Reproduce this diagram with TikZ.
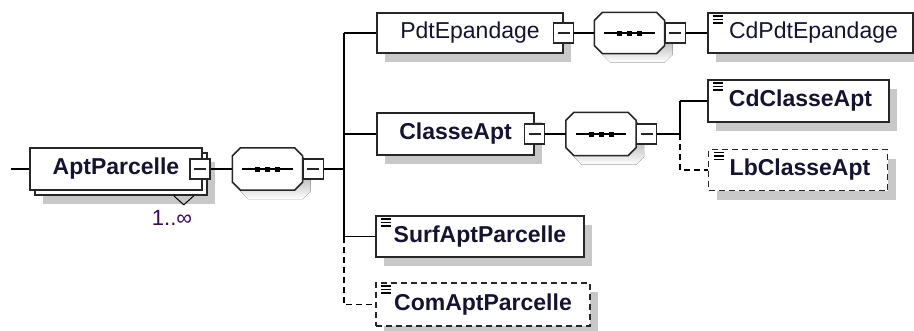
\documentclass[tikz,border=0pt]{standalone}
\usepackage{fontspec}
\setmainfont{Liberation Sans}
\usepackage{tikz}
\usetikzlibrary{positioning,shapes,shadows,calc}
\definecolor{ink}{RGB}{20,20,50}
\definecolor{multi}{RGB}{60,10,90}
\definecolor{shade}{RGB}{200,200,200}
\tikzstyle{box}=[%
      rectangle, draw=black!85, line width=1.6pt, fill=white, text=ink,
      minimum height=41pt, inner sep=0pt, font=\fontsize{23}{23}\selectfont
]
\tikzstyle{el}=[%
      box, drop shadow={shadow xshift=8pt, shadow yshift=-9pt, fill=shade, opacity=1}
]
\tikzstyle{opt}=[%
      el, dash pattern=on 6pt off 4pt
]
\tikzstyle{bold}=[%
      font=\fontsize{23}{23}\selectfont\bfseries
]
\tikzstyle{doc}=[%
      path picture={\foreach \k in {3,6.5,10}
        \draw[solid, line width=1.2pt, black] ([xshift=5pt,yshift=-\k pt]path picture bounding box.north west) -- ++(10,0);}
]
\tikzstyle{ex}=[%
      rectangle, draw=black!85, line width=1.3pt, fill=white, solid,
      minimum size=20pt, inner sep=0pt,
      path picture={\draw[line width=1.2pt] ([xshift=4pt]path picture bounding box.west) -- ([xshift=-4pt]path picture bounding box.east);}
]
\tikzstyle{seq}=[%
      rectangle, draw=none, minimum width=69pt, minimum height=41pt, inner sep=0pt
]
\tikzstyle{dsh}=[%
      dash pattern=on 6pt off 4pt
]
% octagon round a node: name, x shift, y shift
\newcommand{\octpath}[3]{([xshift=8pt+#2,yshift=#3]#1.north west) -- ([xshift=-8pt+#2,yshift=#3]#1.north east)
  -- ([xshift=#2,yshift=-8pt+#3]#1.north east) -- ([xshift=#2,yshift=8pt+#3]#1.south east)
  -- ([xshift=-8pt+#2,yshift=#3]#1.south east) -- ([xshift=8pt+#2,yshift=#3]#1.south west)
  -- ([xshift=#2,yshift=8pt+#3]#1.south west) -- ([xshift=#2,yshift=-8pt+#3]#1.north west) -- cycle}

\begin{document}
\begin{tikzpicture}[x=1pt, y=-1pt, line width=1.3pt, line join=miter]
    \useasboundingbox (0,0) rectangle (914,330);

    \node[el, bold, minimum width=172pt, minimum height=42pt] (aptb) at (121,174) {};
    \node[box, bold, minimum width=172pt, minimum height=42pt] (apt) at (116,169) {AptParcelle};
    \draw[line width=1pt] ([xshift=-34pt]aptb.south east) -- ++(10,9) -- ++(10,-9);
    \node[text=multi, font=\fontsize{22}{22}\selectfont] (mult) at (172,218) {1..∞};
    \coordinate (in) at (11,169);

    \node[seq] (q1) at (267.5,169) {};
    \coordinate (j1) at (344,169);

    \node[el, minimum width=186pt, minimum height=40pt] (pdt) at (470,33) {PdtEpandage};
    \node[seq, minimum height=40pt] (q2) at (629.5,33) {};
    \node[el, doc, minimum width=205pt, minimum height=40pt] (cdp) at (810.5,33) {\hspace{6pt}CdPdtEpandage};

    \node[el, bold, minimum width=157pt, minimum height=42pt] (cls) at (455.5,134) {ClasseApt};
    \node[seq, minimum height=42pt] (q3) at (601,134) {};
    \coordinate (j2) at (680,134);
    \node[el, bold, doc, minimum width=181pt, minimum height=42pt] (cdc) at (798.5,101) {\hspace{4pt}CdClasseApt};
    \node[opt, bold, doc, minimum width=179pt] (lbc) at (798,170) {\hspace{4pt}LbClasseApt};

    \node[el, bold, doc, minimum width=208pt] (surf) at (480,236.5) {SurfAptParcelle};
    \node[opt, bold, doc, minimum width=214pt, minimum height=43pt] (com) at (483,304.5) {ComAptParcelle};

    \foreach \q in {q1,q2,q3} {
      \fill[shade] \octpath{\q}{8pt}{-9pt};
      \draw[draw=black!85, line width=1.6pt, fill=white] \octpath{\q}{0pt}{0pt};
      \draw ([xshift=10pt]\q.west) -- ([xshift=-10pt]\q.east);
      \foreach \d in {-10,0,10}
        \fill ([shift={(\d-2.5,-2.5)}]\q.center) rectangle ++(5,5);
    }

    \node[ex] (apt-x) at (200,169) {};
    \node[ex, right=0pt of q1] (q1-x) {};
    \node[ex] (pdt-x) at (pdt.east) {};
    \node[ex, right=0pt of q2] (q2-x) {};
    \node[ex] (cls-x) at (cls.east) {};
    \node[ex, right=0pt of q3] (q3-x) {};

    \draw (in) -- (apt.west);
    \draw (apt-x.east) -- (q1.west);
    \draw (q1-x.east) -- (j1);
    \draw (j1 |- pdt) -- (j1 |- surf);
    \draw[dsh] (j1 |- surf) -- (j1 |- com) -- (com.west);
    \draw (j1 |- pdt) -- (pdt.west);
    \draw (j1 |- cls) -- (cls.west);
    \draw (j1 |- surf) -- (surf.west);

    \draw (pdt-x.east) -- (q2.west);
    \draw (q2-x.east) -- (cdp.west);

    \draw (cls-x.east) -- (q3.west);
    \draw (q3-x.east) -- (j2);
    \draw (j2 |- cdc) -- (j2);
    \draw (j2 |- cdc) -- (cdc.west);
    \draw[dsh] (j2) -- (j2 |- lbc) -- (lbc.west);

\end{tikzpicture}
\end{document}
